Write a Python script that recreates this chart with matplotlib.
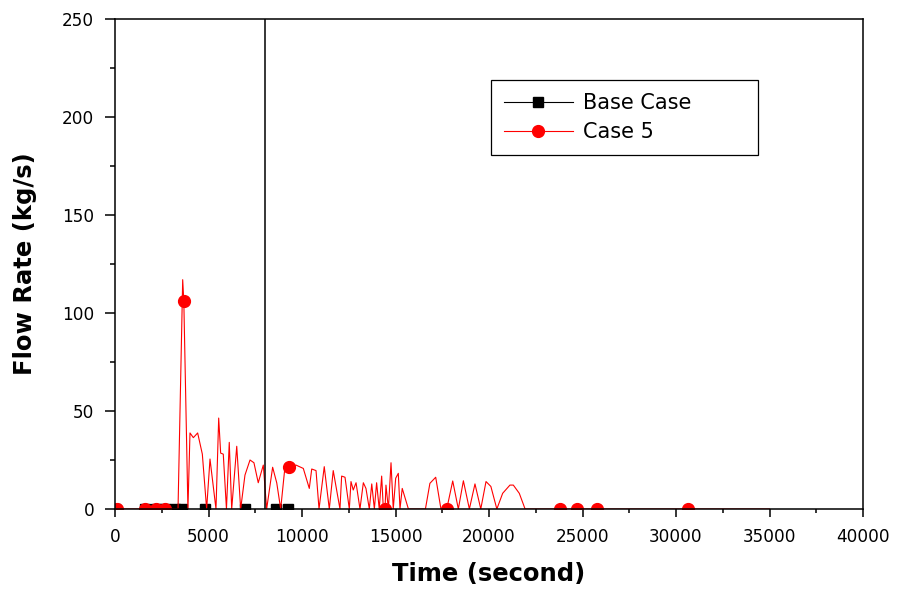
import matplotlib
matplotlib.use('Agg')
import matplotlib.pyplot as plt
from matplotlib.ticker import MultipleLocator

# Base Case: flow stays at zero, squares mark the saved points
base_t = [0, 1600, 2200, 2700, 3200, 3600, 4800, 6950, 8600, 9250, 35000]
base_v = [0, 0, 0, 0, 0, 0, 0, 0, 0, 0, 0]
base_marks = [0, 1600, 2200, 2700, 3200, 3600, 4800, 6950, 8600, 9250]

# Case 5
case5_t = [0, 100, 1600, 2190, 2670, 3370, 3620, 3680, 3900, 4010, 4190, 4420,
           4670, 4900, 5080, 5400, 5545, 5650, 5790, 5960, 6110, 6240, 6510,
           6720, 6950, 7220, 7430, 7660, 7930, 8110, 8430, 8650, 8860, 9090,
           9320, 9680, 10070, 10390, 10520, 10750, 10910, 11190, 11460, 11670,
           12030, 12120, 12300, 12530, 12620, 12740, 12890, 13100, 13280, 13420,
           13600, 13730, 13870, 13990, 14130, 14260, 14350, 14440, 14490, 14620,
           14760, 14880, 15010, 15150, 15240, 15360, 15690, 16600, 16840, 17150,
           17430, 17740, 18060, 18360, 18630, 18950, 19250, 19560, 19840, 20100,
           20420, 20730, 21120, 21300, 21620, 21930, 23800, 24690, 25760, 30660,
           35000]
case5_v = [0, 0, 0, 0, 0, 0, 117, 106, 0, 38.8, 36.4, 38.8,
           28, 0, 25.5, 0, 46.4, 28.5, 28, 0, 34, 0, 32,
           0, 17.3, 25, 23.6, 13.4, 22.4, 0, 21.3, 13.3, 0, 21.6,
           21.6, 22.4, 20.7, 10.5, 20.4, 19.6, 0, 21.6, 0, 19.6,
           0, 16.8, 16.2, 0, 14, 9.7, 13.4, 0, 13.4, 10.5,
           0, 12.8, 0, 13.4, 0, 16.8, 0, 0, 12.2, 0,
           23.6, 0, 15.7, 18.2, 0, 10.5, 0, 0, 13.1, 16.2,
           0, 0, 14.3, 0, 14.4, 0, 12.8, 0, 14, 11.5,
           0, 8, 12.2, 12.2, 8, 0, 0, 0, 0, 0,
           0]
case5_marks = [100, 1600, 2190, 2670, 3680, 9320, 14440, 17740, 23800, 24690,
               25760, 30660]

fig = plt.figure(figsize=(9.02, 5.89), dpi=100)
ax = fig.add_axes([115 / 902, 1 - 509 / 589, 748 / 902, 490 / 589])

ax.plot(base_t, base_v, color='black', lw=0.8, marker='s', ms=7.5,
        markevery=[base_t.index(m) for m in base_marks], label='Base Case')
ax.plot(case5_t, case5_v, color='red', lw=0.8, marker='o', ms=8.5,
        markevery=[case5_t.index(m) for m in case5_marks], label='Case 5')
ax.axvline(8000, color='black', lw=1.1)

ax.set_xlim(0, 40000)
ax.set_ylim(0, 250)
ax.xaxis.set_major_locator(MultipleLocator(5000))
ax.xaxis.set_minor_locator(MultipleLocator(2500))
ax.yaxis.set_major_locator(MultipleLocator(50))
ax.yaxis.set_minor_locator(MultipleLocator(25))
ax.tick_params(axis='x', which='major', direction='out', length=6, width=1.1,
               pad=8, labelsize=12.2)
ax.tick_params(axis='x', which='minor', direction='out', length=3, width=1.1)
ax.tick_params(axis='y', which='major', direction='out', length=7, width=1.1,
               pad=8, labelsize=12.2)
ax.tick_params(axis='y', which='minor', direction='out', length=3.5, width=1.1)
for s in ax.spines.values():
    s.set_linewidth(1.1)

ax.set_xlabel('Time (second)', fontsize=17.5, fontweight='bold', labelpad=11)
ax.set_ylabel('Flow Rate (kg/s)', fontsize=17.5, fontweight='bold', labelpad=18)

# legend box stretched to the frame size seen in the reference
leg = ax.legend(loc='upper left', mode='expand',
                bbox_to_anchor=(491 / 902, 1 - 149 / 589, 267 / 902, 69 / 589),
                bbox_transform=fig.transFigure, borderaxespad=0, fancybox=False,
                framealpha=1, edgecolor='black', fontsize=15, handlelength=3.3,
                handletextpad=0.5, labelspacing=0.45, borderpad=0.62)
leg.get_frame().set_linewidth(0.9)

fig.savefig('out.png', dpi=100)
